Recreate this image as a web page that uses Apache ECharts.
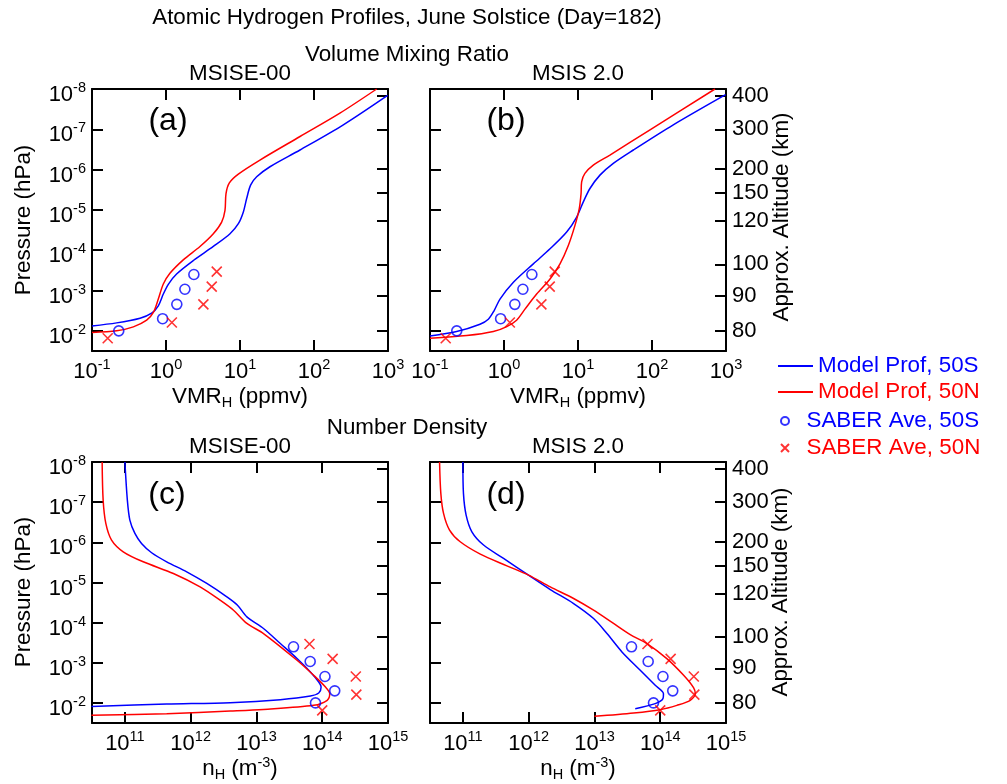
<!DOCTYPE html>
<html><head><meta charset="utf-8">
<script src="https://cdn.jsdelivr.net/npm/echarts@6/dist/echarts.min.js"></script>
<style>html,body{margin:0;padding:0;background:#fff}#c{width:1007px;height:784px}</style>
</head><body><div id="c"></div>
<script>
// ---------- tick labels ----------
const pressureTickExponents = [-8, -7, -6, -5, -4, -3, -2];
const vmrTickExponents = [-1, 0, 1, 2, 3];
const densityTickExponents = [11, 12, 13, 14, 15];
const altitudeLabels = [80, 90, 100, 120, 150, 200, 300, 400];
const altitudePressure = [9.8e-3, 1.38e-3, 2.24e-4, 1.9e-5, 3.85e-6, 9.7e-7, 1.0e-7, 1.45e-8];

// ---------- model profiles: [value, pressure hPa] ----------
const msise00Vmr50S = [[0.1,7.53e-3],[0.215,6.34e-3],[0.446,4.85e-3],[0.64,3.64e-3],[0.787,2.39e-3],[0.92,1.22e-3],[1.08,6.9e-4],[1.39,3.88e-4],[2.34,1.80e-4],[4.36,8.07e-5],[7.33,3.90e-5],[9.5,2.20e-5],[11.1,1.12e-5],[12.3,5.22e-6],[13.9,2.43e-6],[16.8,1.51e-6],[25.4,8.49e-7],[64.7,3.26e-7],[249,7.74e-8],[988,1.44e-8]];
const msise00Vmr50N = [[0.1,1.10e-2],[0.215,1.0e-2],[0.362,7.98e-3],[0.548,5.44e-3],[0.675,3.50e-3],[0.787,1.63e-3],[0.92,6.9e-4],[1.13,3.73e-4],[1.71,1.73e-4],[2.88,8.07e-5],[4.36,3.90e-5],[5.65,2.0e-5],[6.27,1.02e-5],[6.47,3.93e-6],[7.18,2.13e-6],[9.5,1.29e-6],[18.6,5.78e-7],[64.7,1.51e-7],[224,3.97e-8],[703,1.0e-8]];
const msis20Vmr50S = [[0.1,1.34e-2],[0.229,1.04e-2],[0.474,6.84e-3],[0.614,5.14e-3],[0.733,3.18e-3],[0.883,1.63e-3],[1.34,6.25e-4],[2.49,2.18e-4],[4.19,9.23e-5],[7.03,3.54e-5],[9.6,1.50e-5],[11.8,6.32e-6],[14.5,2.94e-6],[19.8,1.37e-6],[30.0,7.0e-7],[56.0,3.26e-7],[194,7.74e-8],[988,1.38e-8]];
const msis20Vmr50N = [[0.1,1.53e-2],[0.313,1.31e-2],[0.718,1.04e-2],[1.09,7.83e-3],[1.48,5.44e-3],[1.92,2.89e-3],[2.76,1.22e-3],[4.19,5.16e-4],[5.71,2.18e-4],[7.40,7.62e-5],[9.1,2.42e-5],[10.4,9.29e-6],[11.0,3.93e-6],[11.2,2.01e-6],[12.4,1.24e-6],[16.1,7.7e-7],[27.0,4.35e-7],[94,1.03e-7],[710,1.0e-8]];
const msise00Nh50S = [[1.00e11,1e-8],[1.09e11,8.87e-8],[1.19e11,2.79e-7],[1.42e11,6.01e-7],[1.79e11,1.07e-6],[2.55e11,1.82e-6],[4.32e11,3.06e-6],[8.71e11,5.43e-6],[1.76e12,1.06e-5],[3.55e12,2.28e-5],[5.15e12,3.68e-5],[7.16e12,7.19e-5],[1.28e13,1.40e-4],[2.31e13,3.32e-4],[4.14e13,7.85e-4],[6.61e13,1.69e-3],[8.85e13,3.01e-3],[9.62e13,4.01e-3],[8.85e13,5.66e-3],[6.61e13,6.73e-3],[2.31e13,8.28e-3],[3.99e12,9.84e-3],[4.32e11,1.07e-2],[3.1e10,1.22e-2]];
const msise00Nh50N = [[4.51e10,1e-8],[4.67e10,8.87e-8],[5.13e10,3.39e-7],[6.27e10,8.81e-7],[9.44e10,1.72e-6],[1.90e11,3.06e-6],[5.46e11,5.97e-6],[1.39e12,1.29e-5],[2.80e12,2.76e-5],[4.48e12,4.91e-5],[7.16e12,1.05e-4],[1.28e13,1.87e-4],[4.14e13,8.67e-4],[7.41e13,2.05e-3],[1.12e14,4.01e-3],[1.30e14,5.86e-3],[1.19e14,8.61e-3],[7.41e13,1.15e-2],[1.28e13,1.45e-2],[3.99e12,1.59e-2],[4.32e11,1.85e-2],[3.1e10,2.04e-2]];
const msis20Nh50S = [[1e11,1e-8],[1.02e11,6.04e-8],[1.12e11,2.10e-7],[1.37e11,5.46e-7],[2.06e11,1.17e-6],[4.15e11,2.52e-6],[9.95e11,6.58e-6],[2.13e12,1.50e-5],[4.82e12,3.35e-5],[9.70e12,7.92e-5],[1.55e13,1.87e-4],[2.62e13,5.37e-4],[4.97e13,1.54e-3],[8.40e13,3.64e-3],[1.12e14,5.87e-3],[1.10e14,7.83e-3],[8.40e13,1.04e-2],[4.17e13,1.39e-2]];
const msis20Nh50N = [[4.42e10,1e-8],[4.62e10,6.04e-8],[5.08e10,1.91e-7],[6.27e10,4.97e-7],[9.10e10,9.70e-7],[1.84e11,1.97e-6],[4.67e11,3.85e-6],[9.95e11,6.58e-6],[2.13e12,1.29e-5],[4.82e12,2.51e-5],[9.70e12,4.91e-5],[1.95e13,1.05e-4],[3.50e13,1.99e-4],[6.28e13,3.33e-4],[1.26e14,7.87e-4],[2.27e14,2.05e-3],[3.21e14,4.16e-3],[3.41e14,5.87e-3],[2.86e14,8.61e-3],[1.79e14,1.15e-2],[1.0e14,1.47e-2],[3.94e13,1.78e-2],[1.0e13,2.16e-2]];

// ---------- SABER averages ----------
const saberVmr50S = [[0.23,1.0e-2],[0.90,5.0e-3],[1.40,2.2e-3],[1.80,9.3e-4],[2.38,4.0e-4]];
const saberVmr50N = [[0.163,1.53e-2],[1.2,6.2e-3],[3.2,2.2e-3],[4.15,8.0e-4],[4.85,3.4e-4]];
const saberNh50S = [[7.9e13,1.0e-2],[1.55e14,5.0e-3],[1.1e14,2.2e-3],[6.56e13,9.3e-4],[3.66e13,4.0e-4]];
const saberNh50N = [[1.0e14,1.53e-2],[3.3e14,6.2e-3],[3.24e14,2.2e-3],[1.44e14,8.0e-4],[6.4e13,3.4e-4]];

const FONT = 'Liberation Sans, Arial, Helvetica, sans-serif';
const FS = 22.4;
const BLUE = '#0000ff', RED = '#ff0000';
const P_MIN = 1e-8, P_MAX_EXP = -1.5;
const XSYM = 'path://M0,0L10,10M10,0L0,10';

const rich = {
  b: {fontSize: 22, fontFamily: FONT, color: '#000'},
  s: {fontSize: 14.5, fontFamily: FONT, color: '#000', padding: [0, 0, 14, 0]}
};
function powFormatter(exps) {
  return function (v) {
    const l = Math.log10(v), e = Math.round(l);
    if (Math.abs(l - e) > 1e-6 || exps.indexOf(e) < 0) return '';
    return '{b|10}{s|' + e + '}';
  };
}
const axisLine = {show: true, lineStyle: {color: '#000', width: 2}};
const tick = (show) => ({show: show, inside: true, length: 11, lineStyle: {color: '#000', width: 2}});

const grids = [
  {left: 92, top: 89, width: 296, height: 262},
  {left: 430, top: 89, width: 296, height: 262},
  {left: 92, top: 462, width: 296, height: 261},
  {left: 430, top: 462, width: 296, height: 261}
];
const xDefs = [
  {min: 0.1, max: 1000, exps: vmrTickExponents},
  {min: 0.1, max: 1000, exps: vmrTickExponents},
  {min: Math.pow(10, 10.5), max: 1e15, exps: densityTickExponents},
  {min: Math.pow(10, 10.5), max: 1e15, exps: densityTickExponents}
];
const xAxis = [], yAxis = [];
const altLog = altitudePressure.map(p => Math.log10(p));
grids.forEach((g, i) => {
  const d = xDefs[i];
  xAxis.push({type: 'log', gridIndex: i, position: 'bottom', min: d.min, max: d.max,
    axisLine, axisTick: tick(true), splitLine: {show: false},
    axisLabel: {show: true, margin: 6, formatter: powFormatter(d.exps), rich: rich, hideOverlap: false}});
  xAxis.push({type: 'log', gridIndex: i, position: 'top', min: d.min, max: d.max,
    axisLine, axisTick: tick(true), splitLine: {show: false}, axisLabel: {show: false}});
  const leftLabels = (i % 2 === 0);
  yAxis.push({type: 'log', gridIndex: i, position: 'left', inverse: true, min: P_MIN, max: Math.pow(10, P_MAX_EXP),
    axisLine, axisTick: tick(true), splitLine: {show: false},
    axisLabel: {show: leftLabels, margin: 6, padding: [12, 0, 0, 0], formatter: powFormatter(pressureTickExponents), rich: rich, hideOverlap: false}});
  yAxis.push({type: 'value', gridIndex: i, position: 'right', inverse: true, min: -8, max: P_MAX_EXP,
    axisLine, splitLine: {show: false},
    axisTick: Object.assign(tick(true), {customValues: altLog}),
    axisLabel: {show: !leftLabels, margin: 6, customValues: altLog, fontSize: 22, fontFamily: FONT, color: '#000',
      formatter: function (v) {
        let best = 0, bd = 1e9;
        altLog.forEach((a, k) => { const dd = Math.abs(a - v); if (dd < bd) { bd = dd; best = k; } });
        return bd < 1e-6 ? String(altitudeLabels[best]) : '';
      }}});
});

const panels = [
  [msise00Vmr50S, msise00Vmr50N, saberVmr50S, saberVmr50N],
  [msis20Vmr50S, msis20Vmr50N, saberVmr50S, saberVmr50N],
  [msise00Nh50S, msise00Nh50N, saberNh50S, saberNh50N],
  [msis20Nh50S, msis20Nh50N, saberNh50S, saberNh50N]
];
const series = [];
panels.forEach((p, i) => {
  const xi = 2 * i, yi = 2 * i;
  series.push({name: 'Model Prof, 50S', type: 'line', xAxisIndex: xi, yAxisIndex: yi, data: p[0],
    symbol: 'none', smooth: 0.3, lineStyle: {color: BLUE, width: 1.5}, itemStyle: {color: BLUE}, z: 3, animation: false});
  series.push({name: 'Model Prof, 50N', type: 'line', xAxisIndex: xi, yAxisIndex: yi, data: p[1],
    symbol: 'none', smooth: 0.3, lineStyle: {color: RED, width: 1.5}, itemStyle: {color: RED}, z: 3, animation: false});
  series.push({name: 'SABER Ave, 50S', type: 'scatter', xAxisIndex: xi, yAxisIndex: yi, data: p[2],
    symbol: 'circle', symbolSize: 10, itemStyle: {color: 'rgba(0,0,0,0)', borderColor: BLUE, borderWidth: 1.6}, z: 4, animation: false});
  series.push({name: 'SABER Ave, 50N', type: 'scatter', xAxisIndex: xi, yAxisIndex: yi, data: p[3],
    symbol: XSYM, symbolSize: 10, itemStyle: {color: 'rgba(0,0,0,0)', borderColor: RED, borderWidth: 1.6}, z: 4, animation: false});
});

const T = (text, x, y) => ({type: 'text', x: x, y: y,
  style: {text: text, fontSize: FS, fontFamily: FONT, fill: '#000', align: 'center', verticalAlign: 'middle'}});
const subRich = {
  n: {fontSize: FS, fontFamily: FONT, fill: '#000'},
  sub: {fontSize: 14.5, fontFamily: FONT, fill: '#000', padding: [12, 0, 0, 0]},
  sup: {fontSize: 14.5, fontFamily: FONT, fill: '#000', padding: [0, 0, 12, 0]}
};
const richText = (text, x, y) => ({type: 'text', x: x, y: y,
  style: {text: text, rich: subRich, fontSize: FS, fontFamily: FONT, fill: '#000', align: 'center', verticalAlign: 'middle'}});
const rotText = (text, x, y) => ({type: 'text', x: x, y: y, rotation: Math.PI / 2,
  style: {text: text, fontSize: FS, fontFamily: FONT, fill: '#000', align: 'center', verticalAlign: 'middle'}});
const big = (text, x, y) => ({type: 'text', x: x, y: y,
  style: {text: text, fontSize: 32, fontFamily: FONT, fill: '#000', align: 'center', verticalAlign: 'middle'}});

const graphic = [
  T('Atomic Hydrogen Profiles, June Solstice (Day=182)', 407, 18),
  T('Volume Mixing Ratio', 407, 55),
  T('MSISE-00', 240, 74), T('MSIS 2.0', 578, 74),
  T('Number Density', 407, 428),
  T('MSISE-00', 240, 447), T('MSIS 2.0', 578, 447),
  big('(a)', 168, 121), big('(b)', 506, 121), big('(c)', 167, 495), big('(d)', 506, 495),
  rotText('Pressure (hPa)', 24, 220), rotText('Pressure (hPa)', 24, 592),
  rotText('Approx. Altitude (km)', 782, 217), rotText('Approx. Altitude (km)', 781, 592),
  richText('{n|VMR}{sub|H}{n| (ppmv)}', 240, 397), richText('{n|VMR}{sub|H}{n| (ppmv)}', 578, 397),
  richText('{n|n}{sub|H}{n| (m}{sup|-3}{n|)}', 240, 769), richText('{n|n}{sub|H}{n| (m}{sup|-3}{n|)}', 578, 769)
];

const chart = echarts.init(document.getElementById('c'), null, {renderer: 'canvas'});
chart.setOption({
  animation: false,
  backgroundColor: '#fff',
  grid: grids,
  xAxis: xAxis,
  yAxis: yAxis,
  legend: [
    {data: [{name: 'Model Prof, 50S', icon: 'rect', textStyle: {color: BLUE}}, {name: 'Model Prof, 50N', icon: 'rect', textStyle: {color: RED}}],
      orient: 'vertical', left: 778, top: 355, padding: 0, itemWidth: 35, itemHeight: 2, itemGap: 4, selectedMode: false,
      textStyle: {fontSize: FS, fontFamily: FONT}},
    {data: [{name: 'SABER Ave, 50S', textStyle: {color: BLUE}}, {name: 'SABER Ave, 50N', textStyle: {color: RED}}],
      orient: 'vertical', left: 780, top: 410, padding: 0, itemWidth: 33, itemHeight: 8, itemGap: 5, selectedMode: false,
      textStyle: {fontSize: FS, fontFamily: FONT}}
  ],
  series: series,
  graphic: graphic
});
</script></body></html>
